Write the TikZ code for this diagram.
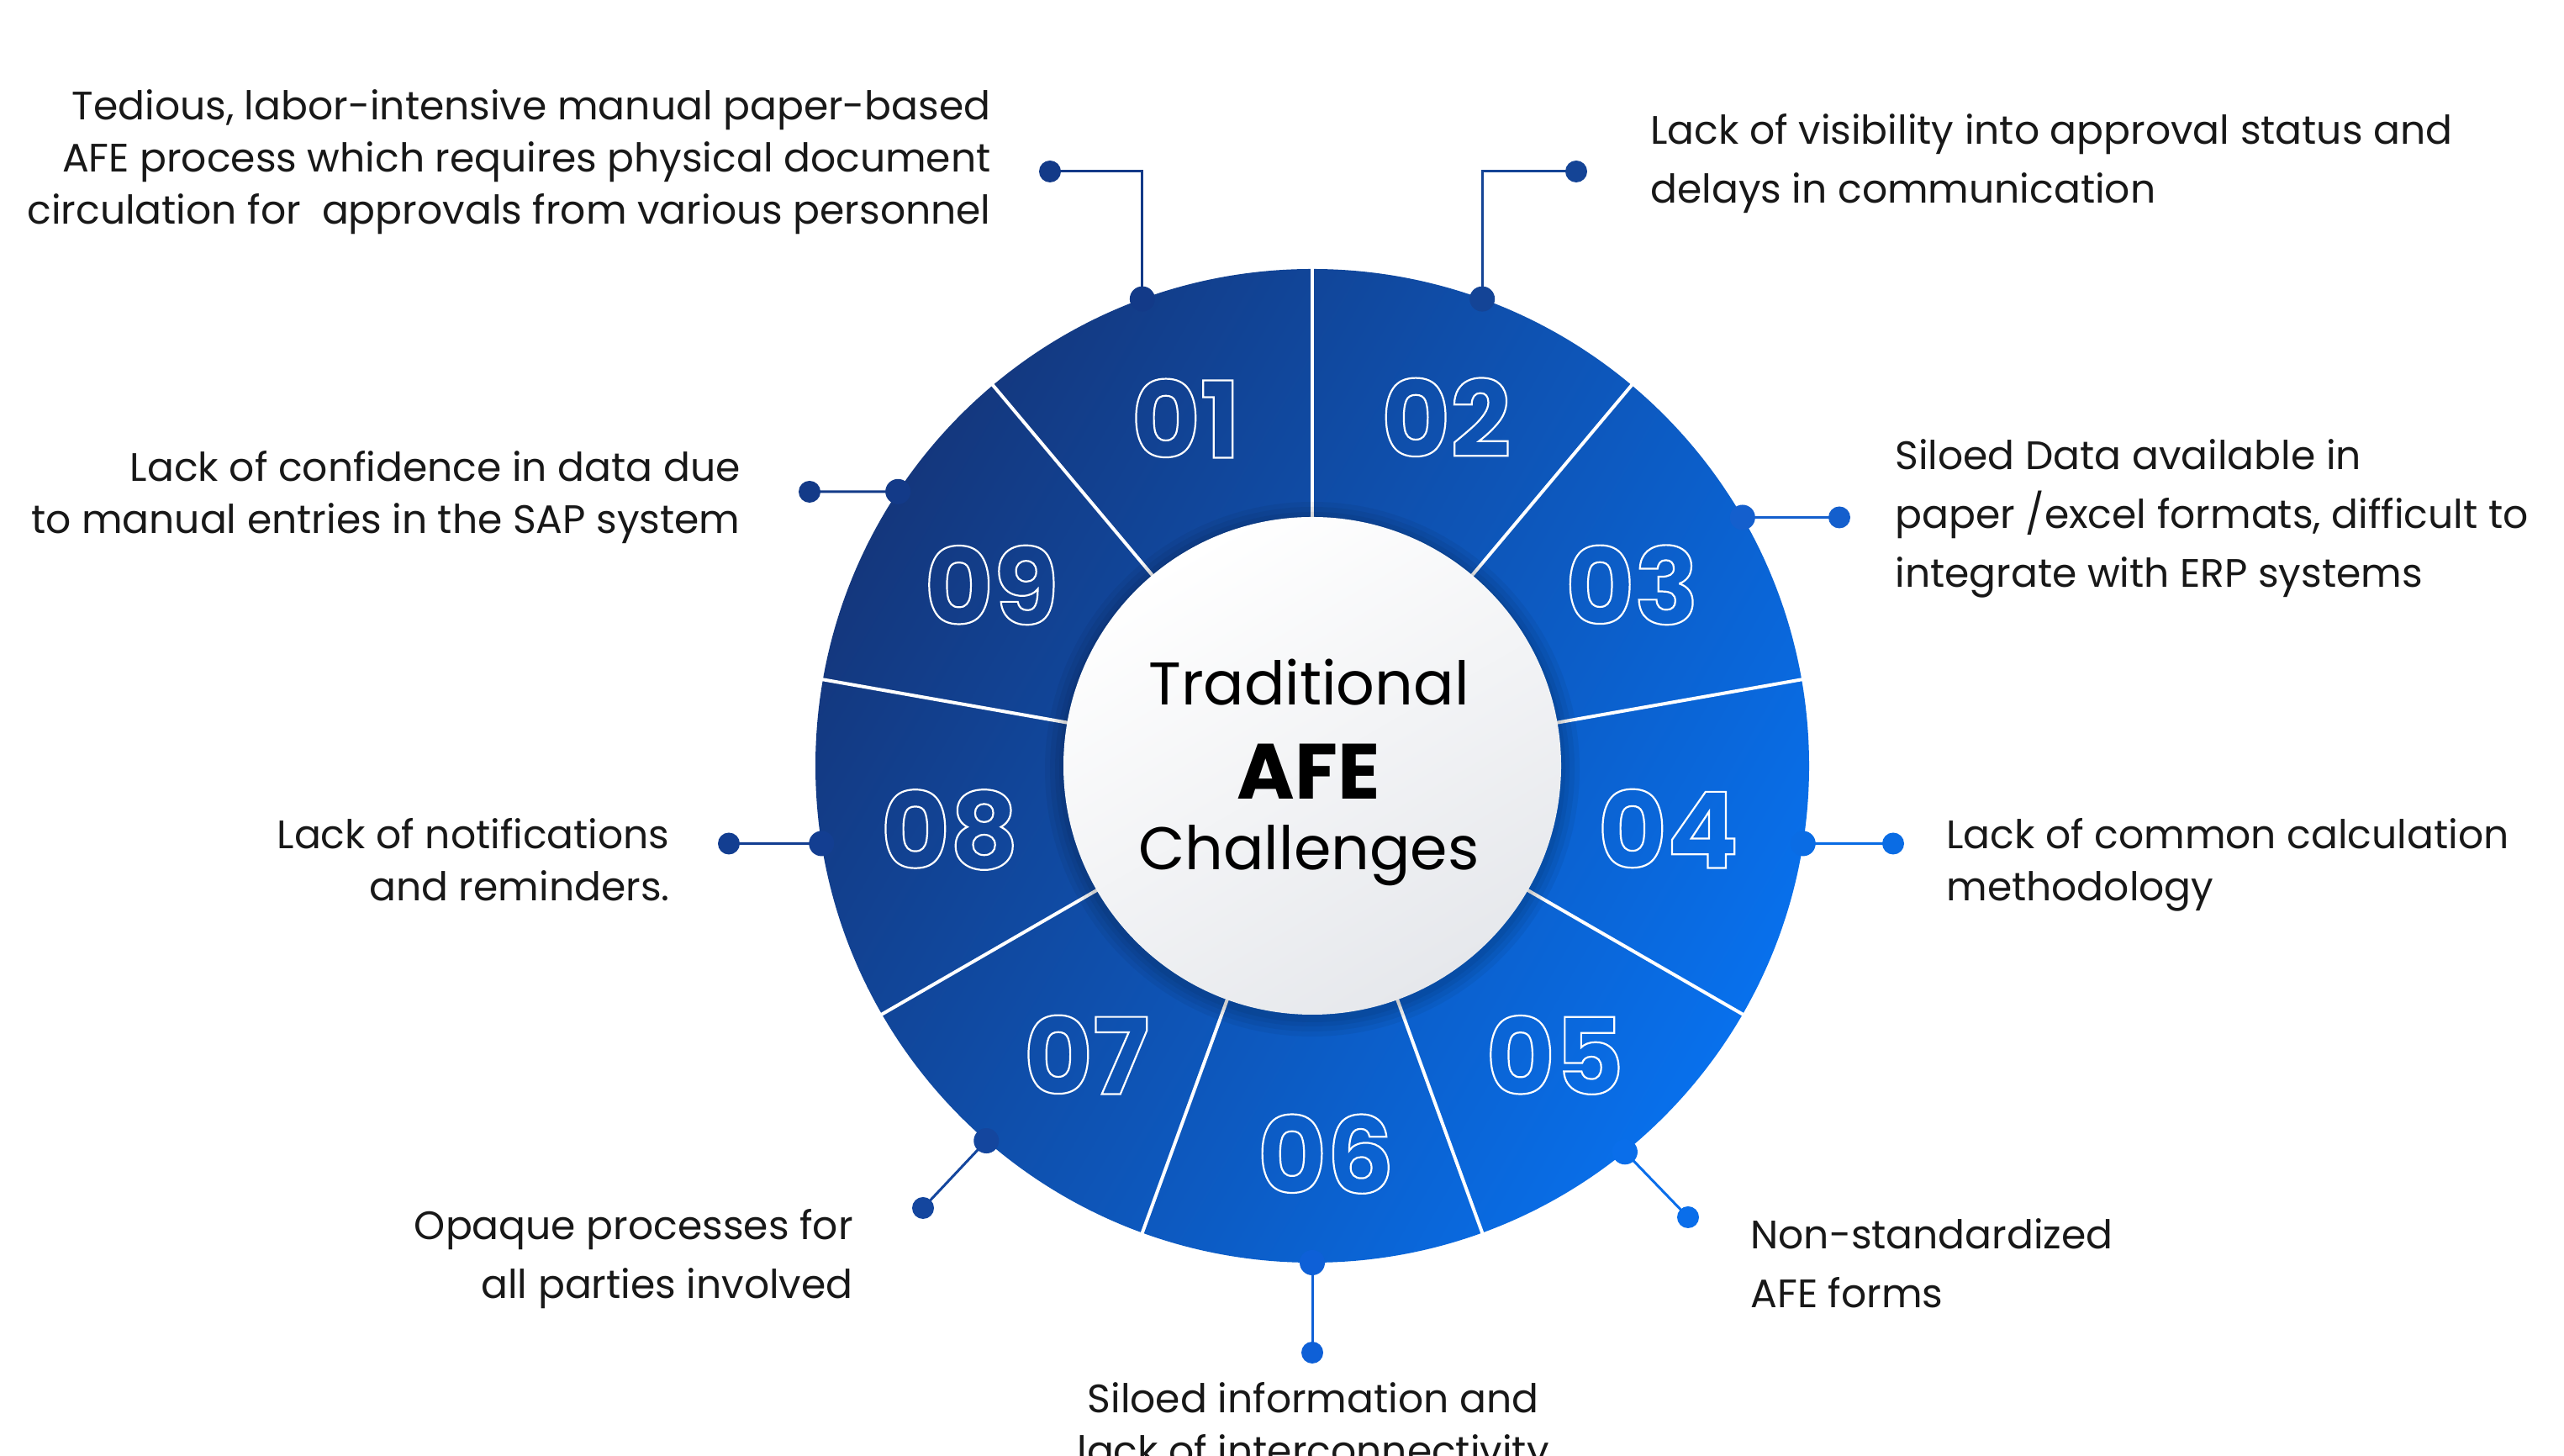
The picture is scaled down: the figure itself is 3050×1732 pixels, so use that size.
\documentclass[tikz,border=0pt]{standalone}
\usepackage{fontspec}
\setmainfont{Poppins}
\usetikzlibrary{calc}
\definecolor{txt}{RGB}{24,24,24}
\definecolor{ringdark}{RGB}{20,55,125}
\definecolor{ringmid}{RGB}{14,82,180}
\definecolor{ringbright}{RGB}{8,112,236}
\definecolor{ca}{RGB}{19,58,136}
\definecolor{cb}{RGB}{20,68,150}
\definecolor{cc}{RGB}{20,95,205}
\definecolor{cd}{RGB}{10,108,228}
\definecolor{ce}{RGB}{10,110,234}
\definecolor{cf}{RGB}{14,96,215}
\definecolor{cg}{RGB}{20,70,158}
\definecolor{ch}{RGB}{19,62,145}
\definecolor{ci}{RGB}{19,58,136}
\definecolor{innergrey}{RGB}{230,232,236}
\newcommand\outl[1]{\special{pdf:literal direct 1 Tr 1.1 w}#1\special{pdf:literal direct 0 Tr}}
\tikzset{
  lblA/.style={font=\fontsize{23.6}{31}\selectfont, text=txt, inner sep=0pt},
  lblB/.style={font=\fontsize{23.6}{35}\selectfont, text=txt, inner sep=0pt},
  num/.style={font=\bfseries\fontsize{63}{64}\selectfont, text=white, inner sep=0pt},
  ctr/.style={font=\fontsize{35.8}{37}\selectfont, text=black, inner sep=0pt, anchor=base},
  ctrbold/.style={font=\bfseries\fontsize{46.6}{48}\selectfont, text=black, inner sep=0pt, anchor=base},
  rimdot/.style={circle, inner sep=0pt, minimum size=15pt},
  enddot/.style={circle, inner sep=0pt, minimum size=13pt},
  conn/.style={line width=1.5pt},
  divider/.style={white, line width=2pt}
}
\begin{document}
\begin{tikzpicture}[x=0.5pt, y=0.5pt]
\useasboundingbox (0,0) rectangle (3050,1732);
\clip (0,0) rectangle (3050,1732);
\fill[white] (0,0) rectangle (3050,1732);
\coordinate (C) at (1561,821);

% ring
\shade[top color=ringdark, middle color=ringmid, bottom color=ringbright, shading angle=60] (C) circle (591);
\foreach \a in {90,50,10,-30,-70,-110,-150,170,130}
  \draw[divider] ([shift={(\a:290)}]C) -- ([shift={(\a:595)}]C);

% shadow of the centre disc
\foreach \r in {318,312,306,301}
  \fill[black, opacity=0.05] ([yshift=-2]C) circle (\r);
\shade[top color=white, bottom color=innergrey, shading angle=30] (C) circle (296);

% centre text
\node[ctr] (tr) at (1557,893) {Traditional};
\node[ctrbold] (afe) at (1557,781) {AFE};
\node[ctr] (chal) at (1557,697) {Challenges};

% numbers
\node[num] (n1) at ([shift={(110:440)}]C) {\outl{01}};
\node[num] (n2) at ([shift={(69:444)}]C) {\outl{02}};
\node[num] (n3) at ([shift={(29.5:437)}]C) {\outl{03}};
\node[num] (n4) at ([shift={(-10:430)}]C) {\outl{04}};
\node[num] (n5) at ([shift={(-50:449)}]C) {\outl{05}};
\node[num] (n6) at ([shift={(-88:462)}]C) {\outl{06}};
\node[num] (n7) at ([shift={(-128:436)}]C) {\outl{07}};
\node[num] (n8) at ([shift={(190:438)}]C) {\outl{08}};
\node[num] (n9) at ([shift={(150.6:438)}]C) {\outl{09}};

% rim dots
\node[rimdot, fill=ca] (d1) at ([shift={(110:591)}]C) {};
\node[rimdot, fill=cb] (d2) at ([shift={(70:591)}]C) {};
\node[rimdot, fill=cc] (d3) at ([shift={(30:591)}]C) {};
\node[rimdot, fill=cd] (d4) at ([shift={(-9:591)}]C) {};
\node[rimdot, fill=ce] (d5) at ([shift={(-51:591)}]C) {};
\node[rimdot, fill=cf] (d6) at ([shift={(-90:591)}]C) {};
\node[rimdot, fill=cg] (d7) at ([shift={(-131:591)}]C) {};
\node[rimdot, fill=ch] (d8) at ([shift={(189:591)}]C) {};
\node[rimdot, fill=ci] (d9) at ([shift={(146.5:591)}]C) {};

% end dots
\node[enddot, fill=ca] (e1) at (1249,1528) {};
\node[enddot, fill=cb] (e2) at (1875,1528) {};
\node[enddot, fill=cc] (e3) at (2188,1116.5) {};
\node[enddot, fill=cd] (e4) at (2252,728.5) {};
\node[enddot, fill=ce] (e5) at (2008,284) {};
\node[enddot, fill=cf] (e6) at (1561,123) {};
\node[enddot, fill=cg] (e7) at (1098,295) {};
\node[enddot, fill=ch] (e8) at (867,728.5) {};
\node[enddot, fill=ci] (e9) at (963,1147) {};

% connectors
\draw[conn, ca] (d1.center) |- (e1.center);
\draw[conn, cb] (d2.center) |- (e2.center);
\draw[conn, cc] (d3.center) -- (e3.center);
\draw[conn, cd] (d4.center) -- (e4.center);
\draw[conn, ce] (d5.center) -- (e5.center);
\draw[conn, cf] (d6.center) -- (e6.center);
\draw[conn, cg] (d7.center) -- (e7.center);
\draw[conn, ch] (d8.center) -- (e8.center);
\draw[conn, ci] (d9.center) -- (e9.center);

% labels
\node[lblA, align=right, anchor=north east] (t1) at (1179,1626)
  {Tedious, labor-intensive manual paper-based\\AFE process which requires physical document\\circulation for \ approvals from various personnel};
\node[lblB, align=left, anchor=north west] (t2) at (1963,1597)
  {Lack of visibility into approval status and\\delays in communication};
\node[lblB, align=left, anchor=north west] (t3) at (2254,1210)
  {Siloed Data available in\\paper /excel formats, difficult to\\integrate with ERP systems};
\node[lblA, align=left, anchor=north west] (t4) at (2315,759)
  {Lack of common calculation\\methodology};
\node[lblB, align=left, anchor=north west] (t5) at (2082,283)
  {Non-standardized\\AFE forms};
\node[lblA, align=center, anchor=north] (t6) at (1562,88)
  {Siloed information and\\lack of interconnectivity};
\node[lblB, align=right, anchor=north east] (t7) at (1015,294)
  {Opaque processes for\\all parties involved};
\node[lblA, align=right, anchor=north east] (t8) at (797,759)
  {Lack of notifications\\and reminders.};
\node[lblA, align=right, anchor=north east] (t9) at (881,1196)
  {Lack of confidence in data due\\to manual entries in the SAP system};
\end{tikzpicture}
\end{document}
